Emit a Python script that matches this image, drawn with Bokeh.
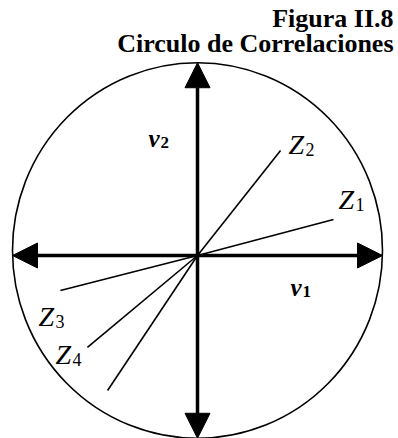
from bokeh.plotting import figure
from bokeh.models import Range1d, Arrow, NormalHead, Label, ColumnDataSource
from bokeh.core.properties import value
from bokeh.embed import file_html
from bokeh.resources import INLINE

# Correlations of each variable with the first two components (v1, v2)
var_names = ["1", "2", "3", "4", "5"]
corr_v1 = [0.735, 0.449, -0.741, -0.595, -0.486]
corr_v2 = [0.195, 0.568, -0.189, -0.497, -0.730]
labelled = ["1", "2", "3", "4"]

# Correlation circle (slightly stretched vertically as printed)
circle_width = 2.0
circle_height = 2.03
circle_cy = 0.027

title_lines = ["Figura II.8", "Circulo de Correlaciones"]

W, H = 398, 438
scale = 185.0          # pixels per unit correlation
cx_px, cy_px = 197.0, 255.0
lift = 9.0             # baseline correction for svg text, pixels

p = figure(width=W, height=H, output_backend="svg", toolbar_location=None,
           x_range=Range1d(-cx_px / scale, (W - cx_px) / scale),
           y_range=Range1d(-(H - cy_px) / scale, cy_px / scale),
           x_axis_location=None, y_axis_location=None,
           min_border=0, outline_line_color=None)
p.grid.visible = False
p.background_fill_color = "white"
p.border_fill_color = "white"

serif = value("Liberation Serif")

# unit circle
p.ellipse(x=0, y=circle_cy, width=circle_width, height=circle_height,
          fill_color=None, line_color="black", line_width=1.6)

# variable vectors
src = ColumnDataSource(dict(x0=[0] * len(corr_v1), y0=[0] * len(corr_v1),
                            x1=corr_v1, y1=corr_v2))
p.segment(x0="x0", y0="y0", x1="x1", y1="y1", source=src,
          line_color="black", line_width=1.6)

# component axes with arrow heads reaching the circle
top_y = circle_cy + circle_height / 2
bot_y = circle_cy - circle_height / 2
for xs, ys, xe, ye in [(-circle_width / 2, 0, circle_width / 2, 0),
                       (0, bot_y, 0, top_y)]:
    p.add_layout(Arrow(start=NormalHead(size=25, fill_color="black", line_color="black"),
                       end=NormalHead(size=25, fill_color="black", line_color="black"),
                       x_start=xs, y_start=ys, x_end=xe, y_end=ye,
                       line_width=3.5, line_color="black"))

# label offsets (pixels: left edge, baseline) relative to each vector tip
label_off = {"1": (5, 11), "2": (8, -3), "3": (-22, -35), "4": (-32, -16)}
zx, zy, sx, sy, st = [], [], [], [], []
for name in labelled:
    i = var_names.index(name)
    dx, dy = label_off[name]
    bx = corr_v1[i] + dx / scale
    by = corr_v2[i] + (dy + lift) / scale
    zx.append(bx); zy.append(by)
    sx.append(bx + 17 / scale); sy.append(by - 5 / scale); st.append(name)

p.text(x=zx, y=zy, text=["Z"] * len(zx), text_font=serif, text_font_style="italic",
       text_font_size="28px", text_baseline="alphabetic", text_color="black")
p.text(x=sx, y=sy, text=st, text_font=serif, text_font_size="18px",
       text_baseline="alphabetic", text_color="black")

# component names: (subscript, left edge px, baseline px from origin)
comp_pos = [("2", -49, 108), ("1", 93, -41)]
for sub, dx, dy in comp_pos:
    bx, by = dx / scale, (dy + lift) / scale
    p.text(x=[bx], y=[by], text=["v"], text_font=serif, text_font_style="bold italic",
           text_font_size="25px", text_baseline="alphabetic", text_color="black")
    p.text(x=[bx + 12 / scale], y=[by - 4 / scale], text=[sub],
           text_font=serif, text_font_style="bold", text_font_size="17px",
           text_baseline="alphabetic", text_color="black")

# heading, right aligned
for txt, top in zip(title_lines, [3, 28]):
    p.add_layout(Label(x=393, y=H - top, x_units="screen", y_units="screen",
                       text=txt, text_font="Liberation Serif", text_font_style="bold",
                       text_font_size="26px", text_align="right",
                       text_baseline="top", text_color="black"))

open("out.html", "w").write(file_html(p, INLINE))
